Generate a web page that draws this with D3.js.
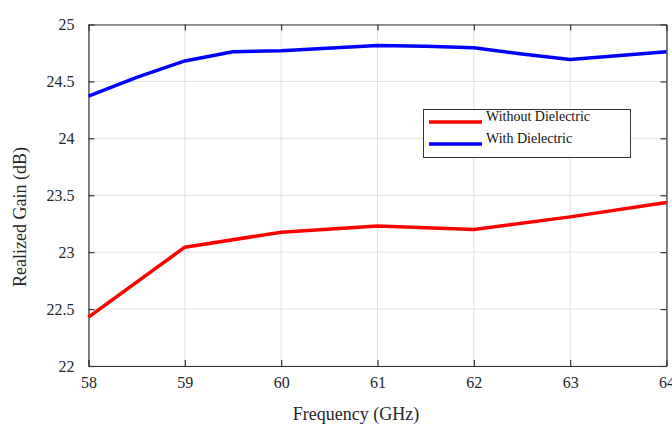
<!DOCTYPE html>
<html>
<head>
<meta charset="utf-8">
<script src="https://cdn.jsdelivr.net/npm/d3@7"></script>
<style>
  body { margin: 0; background: #fff; }
  svg text { font-family: "Liberation Serif", "Times New Roman", serif !important; }
</style>
</head>
<body>
<svg width="672" height="426"></svg>
<script>
// data
const freq = [58, 58.5, 59, 59.5, 60, 61, 61.5, 62, 62.5, 63, 64];
const withDielectric = [24.37, 24.535, 24.68, 24.76, 24.77, 24.815, 24.81, 24.796, 24.74, 24.693, 24.76];
const freqNoDiel = [58, 59, 60, 61, 62, 63, 64];
const withoutDielectric = [22.43, 23.044, 23.175, 23.23, 23.2, 23.31, 23.436];
const xTicks = [58, 59, 60, 61, 62, 63, 64];
const yTicks = [22, 22.5, 23, 23.5, 24, 24.5, 25];

const svg = d3.select("svg");
const plotLeft = 88.5, plotRight = 666.5, plotTop = 24.5, plotBottom = 366;

const x = d3.scaleLinear().domain([58, 64]).range([plotLeft, plotRight]);
const y = d3.scaleLinear().domain([22, 25]).range([plotBottom, plotTop]);

// grid
svg.append("g")
  .selectAll("line")
  .data(xTicks)
  .join("line")
  .attr("x1", d => x(d)).attr("x2", d => x(d))
  .attr("y1", plotTop).attr("y2", plotBottom)
  .attr("stroke", "#e0e0e0").attr("stroke-width", 1);
svg.append("g")
  .selectAll("line")
  .data(yTicks)
  .join("line")
  .attr("x1", plotLeft).attr("x2", plotRight)
  .attr("y1", d => y(d)).attr("y2", d => y(d))
  .attr("stroke", "#e0e0e0").attr("stroke-width", 1);

// axes (ticks pointing inward, MATLAB style)
const tickLen = 6;
const xAxis = svg.append("g")
  .attr("transform", `translate(0,${plotBottom})`)
  .call(d3.axisBottom(x).tickValues(xTicks).tickSizeInner(-tickLen).tickSizeOuter(0).tickPadding(11).tickFormat(d3.format("")));
const xTop = svg.append("g")
  .attr("transform", `translate(0,${plotTop})`)
  .call(d3.axisTop(x).tickValues(xTicks).tickSizeInner(-tickLen).tickSizeOuter(0).tickFormat(""));
const yAxis = svg.append("g")
  .attr("transform", `translate(${plotLeft},0)`)
  .call(d3.axisLeft(y).tickValues(yTicks).tickSizeInner(-tickLen).tickSizeOuter(0).tickPadding(14).tickFormat(d3.format("")));
const yRight = svg.append("g")
  .attr("transform", `translate(${plotRight},0)`)
  .call(d3.axisRight(y).tickValues(yTicks).tickSizeInner(-tickLen).tickSizeOuter(0).tickFormat(""));

[xAxis, xTop, yAxis, yRight].forEach(g => {
  g.attr("font-family", null);
  g.select(".domain").attr("stroke", "#333").attr("stroke-width", 1.2);
  g.selectAll(".tick line").attr("stroke", "#333").attr("stroke-width", 1.2);
  g.selectAll(".tick text")
    .attr("fill", "#262626")
    .style("font-size", "16px");
});

// lines
const line = d3.line().x(d => x(d[0])).y(d => y(d[1]));
svg.append("path")
  .datum(d3.zip(freq, withDielectric))
  .attr("d", line)
  .attr("fill", "none").attr("stroke", "#0000ff").attr("stroke-width", 3.5)
  .attr("stroke-linejoin", "round");
svg.append("path")
  .datum(d3.zip(freqNoDiel, withoutDielectric))
  .attr("d", line)
  .attr("fill", "none").attr("stroke", "#ff0000").attr("stroke-width", 3.5)
  .attr("stroke-linejoin", "round");

// legend
const legend = svg.append("g");
legend.append("rect")
  .attr("x", 423.5).attr("y", 109.5).attr("width", 207).attr("height", 48)
  .attr("fill", "#fff").attr("stroke", "#333").attr("stroke-width", 1);
const items = [
  { name: "Without Dielectric", color: "#ff0000", y: 122 },
  { name: "With Dielectric", color: "#0000ff", y: 144 }
];
items.forEach(it => {
  legend.append("line")
    .attr("x1", 429).attr("x2", 482).attr("y1", it.y).attr("y2", it.y)
    .attr("stroke", it.color).attr("stroke-width", 3.5);
  legend.append("text")
    .attr("x", 486).attr("y", it.y - 1)
    .attr("font-size", 14).attr("fill", "#111")
    .text(it.name);
});

// axis labels
svg.append("text")
  .attr("x", 356).attr("y", 420)
  .attr("text-anchor", "middle")
  .attr("font-size", 18).attr("fill", "#262626")
  .text("Frequency (GHz)");
svg.append("text")
  .attr("transform", "translate(26,217) rotate(-90)")
  .attr("text-anchor", "middle")
  .attr("font-size", 18).attr("fill", "#262626")
  .text("Realized Gain (dB)");
</script>
</body>
</html>
